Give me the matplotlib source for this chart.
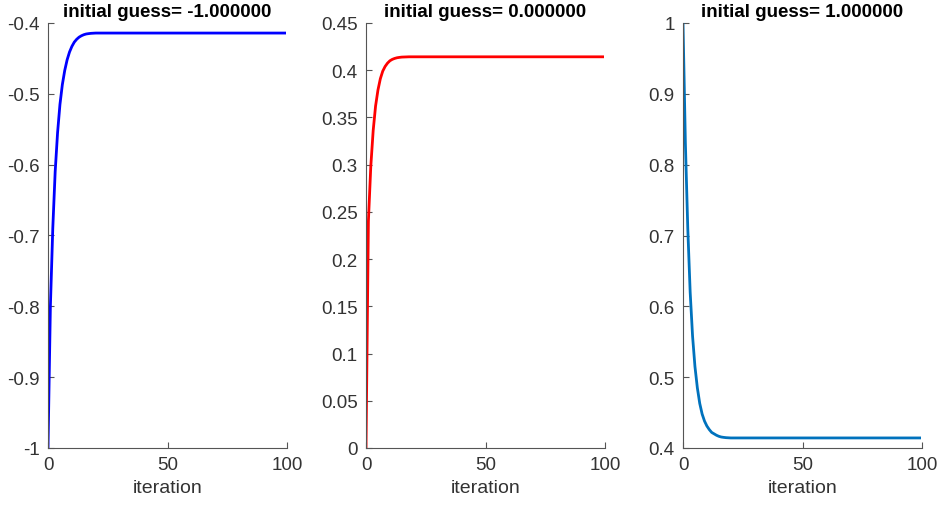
import matplotlib
matplotlib.use("Agg")
import matplotlib.pyplot as plt
from matplotlib.ticker import FuncFormatter

plt.rcParams["font.family"] = ["Liberation Sans", "DejaVu Sans"]
plt.rcParams["axes.unicode_minus"] = False

# fixed-point iterates (flat tail after ~20 iterations)
guesses = [-1.0, 0.0, 1.0]
run_neg = [-1.0, -0.80, -0.69, -0.61, -0.555, -0.515, -0.487, -0.467, -0.452, -0.441,
           -0.433, -0.427, -0.423, -0.420, -0.418, -0.4165, -0.4155, -0.415, -0.4146, -0.4144] + [-0.4142] * 80
run_zero = [0.0, 0.24, 0.298, 0.336, 0.362, 0.379, 0.391, 0.399, 0.404, 0.4075,
            0.410, 0.4115, 0.4125, 0.4132, 0.4136, 0.4139, 0.414, 0.4141, 0.4142, 0.4142] + [0.4142] * 80
run_pos = [1.0, 0.83, 0.71, 0.62, 0.558, 0.515, 0.485, 0.463, 0.448, 0.438,
           0.431, 0.426, 0.422, 0.420, 0.418, 0.4165, 0.4155, 0.415, 0.4146, 0.4144] + [0.4142] * 80
runs = [run_neg, run_zero, run_pos]

ylims = [(-1, -0.4), (0, 0.45), (0.4, 1)]
yticks = [[-1, -0.9, -0.8, -0.7, -0.6, -0.5, -0.4],
          [0, 0.05, 0.1, 0.15, 0.2, 0.25, 0.3, 0.35, 0.4, 0.45],
          [0.4, 0.5, 0.6, 0.7, 0.8, 0.9, 1]]
colors = ["#0000ff", "#ff0000", "#0072bd"]
lefts = [48, 366, 683]

W, H = 938, 506
fig = plt.figure(figsize=(W / 100, H / 100), dpi=100)
axis_grey = "#333333"

for k in range(3):
    ax = fig.add_axes([lefts[k] / W, 1 - 449 / H, 239 / W, 425 / H])
    iters = list(range(len(runs[k])))
    ax.plot(iters, runs[k], color=colors[k], linewidth=2.0)
    ax.set_xlim(0, 100)
    ax.set_ylim(*ylims[k])
    ax.set_xticks([0, 50, 100])
    ax.set_yticks(yticks[k])
    ax.yaxis.set_major_formatter(FuncFormatter(lambda v, p: "%g" % round(v, 4)))
    for side in ("top", "right"):
        ax.spines[side].set_visible(False)
    for side in ("left", "bottom"):
        ax.spines[side].set_color("#555555")
        ax.spines[side].set_linewidth(0.8)
    ax.tick_params(direction="in", length=4, width=0.8, colors="#555555",
                   labelcolor=axis_grey, labelsize=13.5, pad=6)
    ax.set_xlabel("iteration", fontsize=14, color=axis_grey, labelpad=4)
    ax.set_title("initial guess= %f" % guesses[k], fontsize=13.5, fontweight="bold", pad=5)

fig.savefig("out.png", dpi=100, facecolor="white")
